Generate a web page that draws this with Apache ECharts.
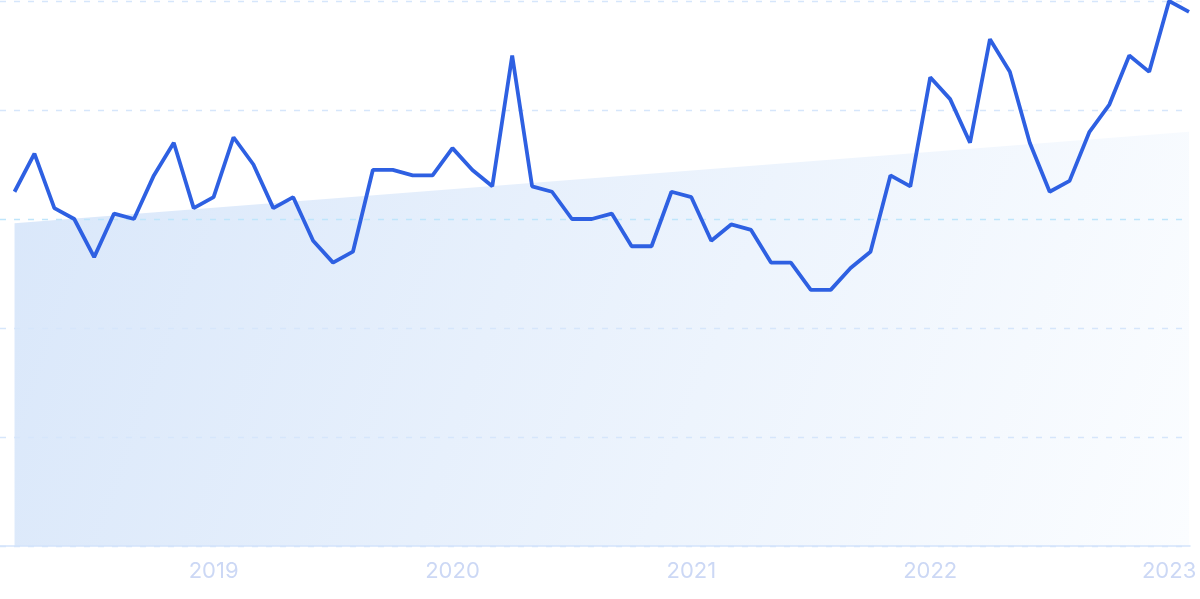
<!DOCTYPE html>
<html>
<head>
<meta charset="utf-8">
<script src="https://cdn.jsdelivr.net/npm/echarts@6/dist/echarts.min.js"></script>
<style>
html,body{margin:0;padding:0;background:#fff;}
#chart{width:1200px;height:599px;}
</style>
</head>
<body>
<div id="chart"></div>
<script>
// Monthly values, 2018-03 .. 2023-02
const values = [65,72,62,60,53,61,60,68,74,62,
                64,75,70,62,64,56,52,54,69,69,
                68,68,73,69,66,90,66,65,60,60,
                61,55,55,65,64,56,59,58,52,52,
                47,47,51,54,68,66,86,82,74,93,
                87,74,65,67,76,81,90,87,100,98];
// Trend line endpoints (index, value)
const trendStart = [0, 59.2];
const trendEnd = [59, 76.0];
const yearLabels = ['2019','2020','2021','2022','2023'];
const yearLabelIndex = [10,22,34,46,58];

const lineData = values.map((v,i)=>[i,v]);

const chart = echarts.init(document.getElementById('chart'));
chart.setOption({
  animation:false,
  grid:{left:0,right:10,top:1,bottom:53,containLabel:false},
  xAxis:{
    type:'value',min:-0.73,max:59.05,z:5,
    axisLine:{show:true,lineStyle:{color:'#d3e4fb',width:1.5}},
    axisTick:{show:false},
    splitLine:{show:false},
    axisLabel:{
      customValues:yearLabelIndex,
      formatter:function(v){const k=yearLabelIndex.indexOf(Math.round(v));return k>=0?yearLabels[k]:'';},
      color:'#ccd8f5',fontSize:22,fontFamily:'Inter',margin:14
    }
  },
  yAxis:{
    type:'value',min:0,max:100,interval:20,z:5,
    axisLine:{show:false},axisTick:{show:false},axisLabel:{show:false},
    splitLine:{show:true,lineStyle:{color:['#d6e6fb','#d6e6fb','#d6e6fb','#bfe5fb','#d6e6fb','#d6e6fb'],type:[6,8],width:1.3}}
  },
  series:[
    {
      type:'line',data:[trendStart,trendEnd],symbol:'none',
      lineStyle:{width:0},z:1,
      areaStyle:{opacity:1,color:new echarts.graphic.LinearGradient(0,0,1,1,[
        {offset:0,color:'#d9e7fa'},{offset:1,color:'#fbfdff'}])}
    },
    {
      type:'line',data:lineData,symbol:'none',showSymbol:false,z:10,
      lineStyle:{color:'#2e60e2',width:3.8}
    }
  ]
});
</script>
</body>
</html>
